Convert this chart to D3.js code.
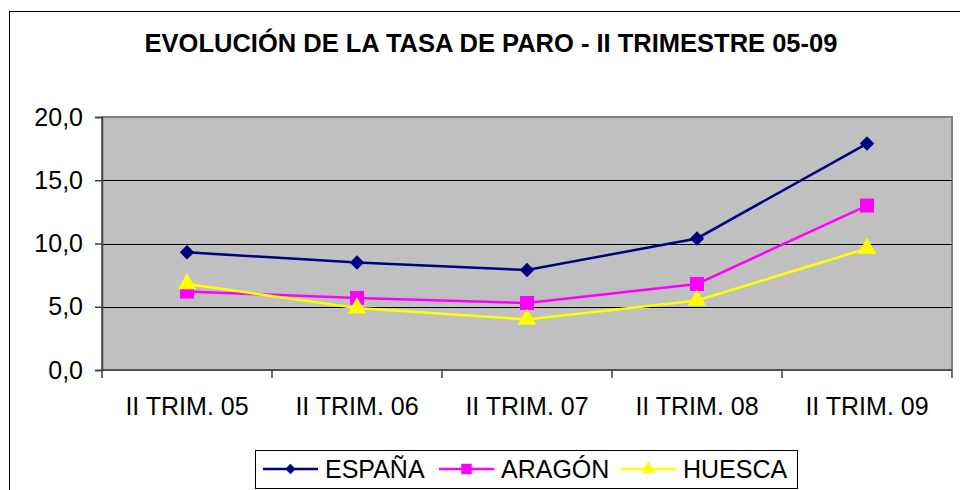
<!DOCTYPE html>
<html>
<head>
<meta charset="utf-8">
<script src="https://d3js.org/d3.v7.min.js"></script>
<style>
    body { margin: 0; background: #fff; }
    svg { font-family: "Liberation Sans", Arial, sans-serif; }
    .grid line { stroke: #000; stroke-width: 1; shape-rendering: crispEdges; }
    .axis path, .axis line { stroke: #404040; stroke-width: 1.5; }
    .axis text { font-size: 25px; fill: #000; }
</style>
</head>
<body>
<svg id="chart" width="960" height="490"></svg>
<script>
    // data
    var categories = ["II TRIM. 05", "II TRIM. 06", "II TRIM. 07", "II TRIM. 08", "II TRIM. 09"];
    var espana = [9.3, 8.5, 7.9, 10.4, 17.9];
    var aragon = [6.2, 5.7, 5.3, 6.8, 13.0];
    var huesca = [6.8, 4.9, 4.0, 5.5, 9.6];
    var yTicks = [0, 5, 10, 15, 20];

    // diamond = square turned 45 degrees, like the spreadsheet marker
    var series = [
        {name: "ESPAÑA", values: espana, color: "#000080", symbol: d3.symbolSquare, rot: 45, size: 105, lsize: 55},
        {name: "ARAGÓN", values: aragon, color: "#FF00FF", symbol: d3.symbolSquare, rot: 0, size: 196, lsize: 110},
        {name: "HUESCA", values: huesca, color: "#FFFF00", symbol: d3.symbolTriangle, rot: 0, size: 150, lsize: 85}
    ];

    var plot = {left: 102, right: 952, top: 117, bottom: 370};

    var svg = d3.select("#chart");

    // outer chart border
    svg.append("rect")
        .attr("x", 9.5).attr("y", 11.5)
        .attr("width", 980).attr("height", 500)
        .attr("fill", "none").attr("stroke", "#000").attr("stroke-width", 1);

    svg.append("text")
        .attr("x", 491).attr("y", 52)
        .attr("text-anchor", "middle")
        .style("font-size", "25.5px").style("font-weight", "bold")
        .text("EVOLUCIÓN DE LA TASA DE PARO - II TRIMESTRE 05-09");

    var x = d3.scaleBand().domain(categories).range([plot.left, plot.right]);
    var y = d3.scaleLinear().domain([0, 20]).range([plot.bottom, plot.top]);

    // plot area
    svg.append("rect")
        .attr("x", plot.left).attr("y", plot.top)
        .attr("width", plot.right - plot.left).attr("height", plot.bottom - plot.top)
        .attr("fill", "#C0C0C0").attr("stroke", "#808080").attr("stroke-width", 2);

    svg.append("g").attr("class", "grid")
        .selectAll("line")
        .data(yTicks.filter(d => d > 0 && d < 20))
        .enter().append("line")
        .attr("x1", plot.left).attr("x2", plot.right)
        .attr("y1", d => Math.round(y(d)) + 0.5).attr("y2", d => Math.round(y(d)) + 0.5);

    svg.append("g").attr("class", "axis")
        .attr("transform", "translate(" + plot.left + ",0)")
        .call(d3.axisLeft(y).tickValues(yTicks).tickSize(7).tickPadding(12)
            .tickFormat(d => d3.format(".1f")(d).replace(".", ",")));

    var xAxis = svg.append("g").attr("class", "axis")
        .attr("transform", "translate(0," + plot.bottom + ")")
        .call(d3.axisBottom(x).tickSize(0).tickPadding(22));
    xAxis.select(".domain").remove();
    xAxis.selectAll(".tick text").attr("dy", "0.71em").attr("y", 27);
    // category boundary ticks
    xAxis.selectAll(".bound")
        .data(d3.range(categories.length + 1))
        .enter().append("line")
        .attr("class", "bound")
        .attr("x1", i => plot.left + i * x.step()).attr("x2", i => plot.left + i * x.step())
        .attr("y1", 0).attr("y2", 8);
    xAxis.append("line")
        .attr("x1", plot.left).attr("x2", plot.right).attr("y1", 0).attr("y2", 0);

    var cx = d => x(d) + x.bandwidth() / 2;

    var line = d3.line()
        .x((d, i) => cx(categories[i]))
        .y(d => y(d));

    series.forEach(function(s) {
        svg.append("path")
            .datum(s.values)
            .attr("fill", "none")
            .attr("stroke", s.color)
            .attr("stroke-width", 2.5)
            .attr("d", line);
    });

    series.forEach(function(s) {
        svg.append("g").selectAll("path")
            .data(s.values)
            .enter().append("path")
            .attr("d", d3.symbol().type(s.symbol).size(s.size))
            .attr("transform", (d, i) => "translate(" + cx(categories[i]) + "," + y(d) + ") rotate(" + s.rot + ")")
            .attr("fill", s.color);
    });

    // legend
    var legend = svg.append("g");
    legend.append("rect")
        .attr("x", 255.5).attr("y", 450.5).attr("width", 542).attr("height", 38)
        .attr("fill", "#fff").attr("stroke", "#000").attr("stroke-width", 1);

    var legendX = [263, 439, 621];
    series.forEach(function(s, i) {
        var g = legend.append("g").attr("transform", "translate(" + legendX[i] + ",469)");
        g.append("line").attr("x1", 0).attr("x2", 55).attr("y1", 0).attr("y2", 0)
            .attr("stroke", s.color).attr("stroke-width", 2.5);
        g.append("path")
            .attr("d", d3.symbol().type(s.symbol).size(s.lsize))
            .attr("transform", "translate(27.5,0) rotate(" + s.rot + ")")
            .attr("fill", s.color);
        g.append("text").attr("x", 62).attr("y", 9)
            .style("font-size", "25px")
            .text(s.name);
    });
</script>
</body>
</html>
